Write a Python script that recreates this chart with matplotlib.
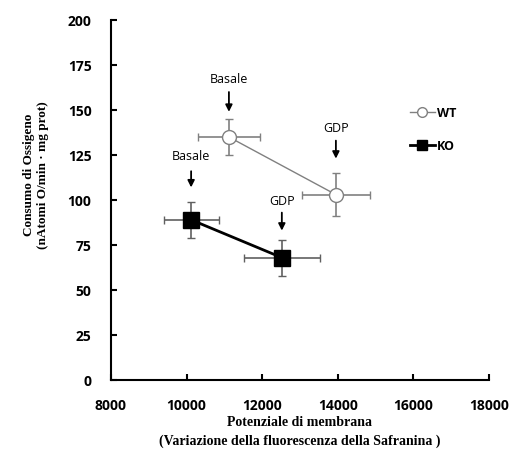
import matplotlib
matplotlib.use('Agg')
import matplotlib.pyplot as plt
from matplotlib.lines import Line2D

# Data
wt_x = [11120, 13950]
wt_y = [135, 103]
wt_xerr = [820, 900]
wt_yerr = [10, 12]

ko_x = [10120, 12520]
ko_y = [89, 68]
ko_xerr = [730, 1000]
ko_yerr = [10, 10]

# annotation labels: (text, x, text_y, arrow_tail_y, arrow_tip_y)
notes = [('Basale', 11120, 167, 160, 149),
         ('GDP', 13950, 140, 133, 123),
         ('Basale', 10120, 124, 116, 107),
         ('GDP', 12520, 99, 93, 83)]

xticks = [8000, 10000, 12000, 14000, 16000, 18000]
yticks = [0, 25, 50, 75, 100, 125, 150, 175, 200]

sans = ['Open Sans', 'DejaVu Sans']
serif = ['Liberation Serif', 'DejaVu Serif']

fig = plt.figure(figsize=(5.1, 4.53), dpi=100)
ax = fig.add_axes([0.2176, 0.1611, 0.7412, 0.7947])

ax.errorbar(wt_x, wt_y, xerr=wt_xerr, yerr=wt_yerr, fmt='-', color='#808080', lw=1.0,
            ecolor='#808080', elinewidth=1.2, capsize=3, capthick=1.0,
            marker='o', ms=10, mfc='white', mec='#808080', mew=1.0, zorder=3)
ax.errorbar(ko_x, ko_y, xerr=ko_xerr, yerr=ko_yerr, fmt='-', color='black', lw=2.0,
            ecolor='#606060', elinewidth=1.2, capsize=3, capthick=1.0,
            marker='s', ms=11, mfc='black', mec='black', zorder=3)

for txt, x, ty, y0, y1 in notes:
    ax.text(x, ty, txt, ha='center', va='center', fontsize=9, family=sans)
    ax.annotate('', xy=(x, y1), xytext=(x, y0),
                arrowprops=dict(arrowstyle='-|>', color='black', lw=1.3, mutation_scale=10,
                                shrinkA=0, shrinkB=0))

ax.set_xlim(8000, 18000)
ax.set_ylim(0, 200)
ax.set_xticks(xticks)
ax.set_yticks(yticks)
ax.spines['top'].set_visible(False)
ax.spines['right'].set_visible(False)
ax.spines['left'].set_linewidth(1.5)
ax.spines['bottom'].set_linewidth(1.5)
ax.tick_params(direction='in', length=4, width=1.5, pad=14, labelsize=10)
for lab in ax.get_xticklabels() + ax.get_yticklabels():
    lab.set_family(sans)
    lab.set_fontweight('bold')

ax.set_xlabel('Potenziale di membrana\n(Variazione della fluorescenza della Safranina )',
              family=serif, fontweight='bold', fontsize=10, labelpad=2, linespacing=1.5)
ax.set_ylabel('Consumo di Ossigeno\n(nAtomi O/min · mg prot)',
              family=serif, fontweight='bold', fontsize=9.5, linespacing=1.2)
ax.yaxis.set_label_coords(-0.165, 0.57)

handles = [Line2D([], [], color='#808080', lw=1.0, marker='o', ms=7, mfc='white', mec='#808080'),
           Line2D([], [], color='black', lw=2.0, marker='s', ms=7, mfc='black', mec='black')]
ax.legend(handles, ['WT', 'KO'], loc='upper left', bbox_to_anchor=(0.76, 0.79), frameon=False,
          handlelength=2.0, handletextpad=0.2, labelspacing=1.6,
          prop={'family': sans, 'weight': 'bold', 'size': 9})

fig.savefig('out.png', dpi=100, facecolor='white')
